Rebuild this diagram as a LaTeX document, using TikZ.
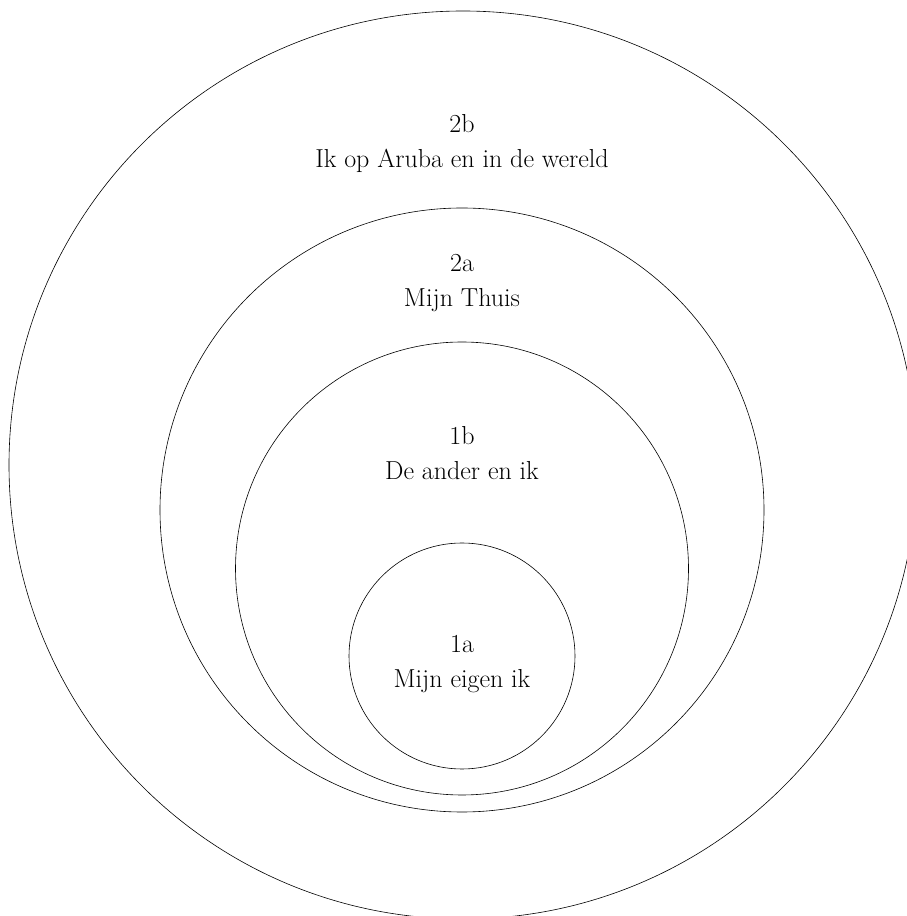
\documentclass[tikz,border=0pt]{standalone}
\usepackage{tikz}
\usetikzlibrary{positioning}
\tikzset{node distance=35pt, auto}

\begin{document}
\begin{tikzpicture}[
  x=1pt, y=1pt,
  ring/.style={draw, circle, inner sep=0pt, line width=0.6pt},
  lbl/.style={font=\fontsize{26}{30}\selectfont, inner sep=0pt}
]
\useasboundingbox (0,0) rectangle (906,916);
% the four rings, outer to inner
\node[ring, minimum size=908pt] (ring2b) at (463,451) {};
\node[ring, minimum size=604pt] (ring2a) at (462,406) {};
\node[ring, minimum size=453pt] (ring1b) at (462,347.5) {};
\node[ring, minimum size=226pt] (ring1a) at (462,260) {};
% labels
\node[lbl, anchor=base] (num2b) at (462,783) {2b};
\node[lbl, below=35pt of num2b.base, anchor=base] (txt2b) {Ik op Aruba en in de wereld};
\node[lbl, anchor=base] (num2a) at (462,644) {2a};
\node[lbl, below=35pt of num2a.base, anchor=base] (txt2a) {Mijn Thuis};
\node[lbl, anchor=base] (num1b) at (462,471) {1b};
\node[lbl, below=35pt of num1b.base, anchor=base] (txt1b) {De ander en ik};
\node[lbl, anchor=base] (num1a) at (462,263) {1a};
\node[lbl, below=35pt of num1a.base, anchor=base] (txt1a) {Mijn eigen ik};
\end{tikzpicture}
\end{document}
